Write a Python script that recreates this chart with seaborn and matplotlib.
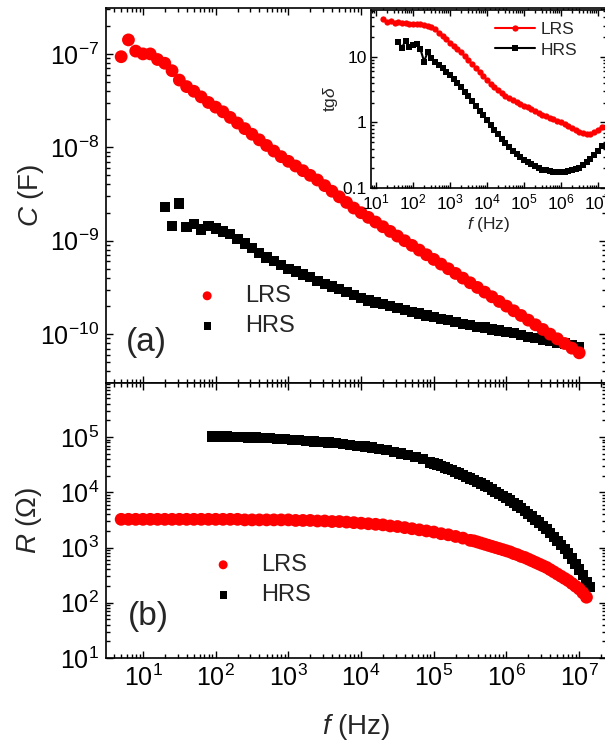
import numpy as np
import pandas as pd
import matplotlib
matplotlib.use("Agg")
import matplotlib.pyplot as plt
import seaborn as sns
from matplotlib.ticker import LogLocator, NullFormatter, FixedLocator, FixedFormatter, LogFormatterMathtext

sns.set_style("ticks")
plt.rcParams.update({
    "font.family": ["Liberation Sans", "DejaVu Sans"],
    "mathtext.fontset": "custom",
    "mathtext.rm": "Liberation Sans",
    "mathtext.it": "Liberation Sans:italic",
    "mathtext.bf": "Liberation Sans:bold",
    "axes.edgecolor": "black",
    "axes.linewidth": 1.2,
    "xtick.color": "black",
    "ytick.color": "black",
})

# ---------------- data (log10 values) ----------------
# (a) capacitance, log10 C [F]
c_lrs_logf = np.round(np.linspace(0.7, 7.0, 64), 2)
c_lrs_log = [-7.03, -6.85, -6.97, -7.00, -7.00, -7.06, -7.10, -7.18, -7.28, -7.35,
             -7.40, -7.46, -7.52, -7.57, -7.62, -7.68, -7.74, -7.80, -7.86, -7.92,
             -7.98, -8.04, -8.10, -8.15, -8.20, -8.25, -8.30, -8.35, -8.41, -8.47,
             -8.53, -8.59, -8.65, -8.70, -8.75, -8.80, -8.85, -8.90, -8.95, -9.00,
             -9.05, -9.10, -9.15, -9.20, -9.25, -9.30, -9.35, -9.40, -9.45, -9.50,
             -9.55, -9.60, -9.65, -9.70, -9.75, -9.80, -9.85, -9.90, -9.95, -10.00,
             -10.05, -10.10, -10.15, -10.20]
c_hrs_logf = np.round(np.linspace(1.3, 7.0, 58), 2)
c_hrs_log = [-8.64, -8.84, -8.60, -8.85, -8.82, -8.88, -8.84, -8.87, -8.90, -8.93,
             -8.98, -9.03, -9.08, -9.13, -9.18, -9.22, -9.26, -9.30, -9.33, -9.36,
             -9.39, -9.43, -9.46, -9.49, -9.52, -9.55, -9.58, -9.61, -9.64, -9.66,
             -9.68, -9.70, -9.72, -9.74, -9.76, -9.78, -9.80, -9.82, -9.84, -9.85,
             -9.87, -9.89, -9.90, -9.92, -9.93, -9.95, -9.96, -9.98, -9.99, -10.01,
             -10.03, -10.04, -10.06, -10.07, -10.09, -10.10, -10.12, -10.14]

# (b) resistance, log10 R [Ohm]
r_lrs_logf = np.r_[np.round(np.linspace(0.7, 5.4, 48), 2), np.round(np.linspace(5.5, 7.1, 33), 2)]
r_lrs_log = [3.51, 3.51, 3.51, 3.51, 3.51, 3.51, 3.51, 3.51, 3.51, 3.51,
             3.51, 3.51, 3.51, 3.51, 3.51, 3.51, 3.51, 3.50, 3.50, 3.50,
             3.50, 3.50, 3.50, 3.50, 3.49, 3.49, 3.49, 3.48, 3.48, 3.47,
             3.47, 3.46, 3.45, 3.44, 3.43, 3.42, 3.41, 3.39, 3.38, 3.36,
             3.34, 3.32, 3.30, 3.28, 3.25, 3.23, 3.20, 3.17,
             3.13, 3.12, 3.10, 3.08, 3.06, 3.04, 3.02, 3.00, 2.98, 2.96,
             2.94, 2.92, 2.89, 2.87, 2.84, 2.82, 2.79, 2.76, 2.73, 2.70,
             2.67, 2.64, 2.60, 2.56, 2.52, 2.48, 2.44, 2.40, 2.35, 2.30,
             2.25, 2.18, 2.10]
r_hrs_logf = np.r_[np.round(np.linspace(1.95, 4.95, 31), 2), np.round(np.linspace(5.0, 7.15, 44), 2)]
r_hrs_log = [5.01, 5.01, 5.01, 5.00, 5.00, 4.99, 4.99, 4.98, 4.98, 4.97,
             4.96, 4.95, 4.94, 4.93, 4.92, 4.91, 4.90, 4.89, 4.87, 4.86,
             4.84, 4.83, 4.81, 4.78, 4.76, 4.73, 4.70, 4.67, 4.64, 4.60,
             4.54,
             4.52, 4.50, 4.47, 4.45, 4.42, 4.40, 4.37, 4.34, 4.31, 4.28,
             4.25, 4.22, 4.19, 4.16, 4.12, 4.09, 4.05, 4.01, 3.97, 3.93,
             3.89, 3.85, 3.80, 3.76, 3.71, 3.66, 3.61, 3.56, 3.50, 3.45,
             3.39, 3.33, 3.26, 3.19, 3.12, 3.05, 2.97, 2.89, 2.80, 2.70,
             2.60, 2.50, 2.38, 2.28]

# inset, log10 tg(delta)
t_lrs_logf = np.round(np.linspace(1.2, 7.1, 60), 2)
t_lrs_log = [1.58, 1.53, 1.55, 1.52, 1.53, 1.52, 1.52, 1.51, 1.51, 1.51,
             1.50, 1.49, 1.47, 1.45, 1.42, 1.37, 1.32, 1.27, 1.22, 1.17,
             1.12, 1.07, 1.01, 0.95, 0.89, 0.83, 0.77, 0.71, 0.65, 0.59,
             0.54, 0.49, 0.45, 0.41, 0.37, 0.34, 0.31, 0.28, 0.25, 0.23,
             0.20, 0.18, 0.15, 0.12, 0.10, 0.07, 0.05, 0.02, 0.00, -0.03,
             -0.06, -0.09, -0.12, -0.14, -0.16, -0.17, -0.17, -0.15, -0.12, -0.07]
t_hrs_logf = np.round(np.linspace(1.6, 7.1, 56), 2)
t_hrs_log = [1.23, 1.14, 1.25, 1.15, 1.18, 1.20, 1.12, 0.93, 1.08, 0.98,
             0.92, 0.88, 0.83, 0.77, 0.72, 0.66, 0.60, 0.54, 0.47, 0.40,
             0.33, 0.25, 0.18, 0.11, 0.03, -0.04, -0.11, -0.18, -0.25, -0.31,
             -0.37, -0.43, -0.48, -0.53, -0.57, -0.60, -0.64, -0.67, -0.70, -0.72,
             -0.73, -0.74, -0.75, -0.75, -0.75, -0.75, -0.74, -0.73, -0.71, -0.69,
             -0.65, -0.61, -0.56, -0.50, -0.43, -0.36]

labels = ["LRS", "HRS"]
RED = "#ff0000"
BLACK = "#000000"


def frame(logf, logv):
    return pd.DataFrame({"f": 10.0 ** np.asarray(logf), "v": 10.0 ** np.asarray(logv)})


# ---------------- figure ----------------
W, H = 605, 743
fig = plt.figure(figsize=(W / 100, H / 100), dpi=100)


def rect(x0, y0, x1, y1):
    return [x0 / W, 1 - y1 / H, (x1 - x0) / W, (y1 - y0) / H]


ax1 = fig.add_axes(rect(106, 8, 605.5, 383))
ax2 = fig.add_axes(rect(106, 383, 605.5, 658))
axi = fig.add_axes(rect(371, 10, 606, 188))

TICK = 18


def style_log(ax, fs, major_len=5, minor_len=3):
    ax.set_xscale("log")
    ax.set_yscale("log")
    ax.tick_params(which="both", direction="in", top=True, right=True, width=1.0)
    ax.tick_params(which="major", length=major_len, labelsize=fs, pad=5)
    ax.tick_params(which="minor", length=minor_len)
    ax.xaxis.set_minor_locator(LogLocator(base=10, subs=np.arange(2, 10), numticks=20))
    ax.yaxis.set_minor_locator(LogLocator(base=10, subs=np.arange(2, 10), numticks=20))
    ax.xaxis.set_minor_formatter(NullFormatter())
    ax.yaxis.set_minor_formatter(NullFormatter())
    for s in ax.spines.values():
        s.set_linewidth(1.2)
        s.set_visible(True)


# ---- panel (a)
d = frame(c_lrs_logf, c_lrs_log)
sns.scatterplot(data=d, x="f", y="v", ax=ax1, marker="o", s=85, color=RED,
                edgecolor="none", linewidth=0, label=labels[0], zorder=3)
d = frame(c_hrs_logf, c_hrs_log)
sns.scatterplot(data=d, x="f", y="v", ax=ax1, marker="s", s=55, color=BLACK,
                edgecolor="none", linewidth=0, label=labels[1], zorder=2)
style_log(ax1, TICK)
ax1.set_xlim(3.1, 2.3e7)
ax1.set_ylim(3.0e-11, 3.1e-7)
ax1.xaxis.set_major_locator(LogLocator(base=10, numticks=20))
ax1.yaxis.set_major_locator(FixedLocator([1e-10, 1e-9, 1e-8, 1e-7]))
ax1.yaxis.set_major_formatter(LogFormatterMathtext())
ax1.tick_params(axis="x", labelbottom=False)
ax1.set_xlabel("")
ax1.set_ylabel(r"$\it{C}$ (F)", fontsize=20)
ax1.yaxis.set_label_coords(-0.12, 0.5)
ax1.text((146 - 106) / 499.5, (383 - 342) / 375, "(a)", transform=ax1.transAxes,
         fontsize=24, ha="center", va="center")
ax1.legend(loc="upper left", bbox_to_anchor=((193 - 106) / 499.5, (383 - 285) / 375),
           frameon=False, fontsize=17, markerscale=0.7, handletextpad=1.0,
           labelspacing=0.35, handlelength=1.2, borderaxespad=0, borderpad=0)

# ---- panel (b)
d = frame(r_lrs_logf, r_lrs_log)
sns.scatterplot(data=d, x="f", y="v", ax=ax2, marker="o", s=85, color=RED,
                edgecolor="none", linewidth=0, label=labels[0], zorder=3)
d = frame(r_hrs_logf, r_hrs_log)
sns.scatterplot(data=d, x="f", y="v", ax=ax2, marker="s", s=55, color=BLACK,
                edgecolor="none", linewidth=0, label=labels[1], zorder=2)
style_log(ax2, TICK)
ax2.set_xlim(3.1, 2.3e7)
ax2.set_ylim(10, 9.5e5)
ax2.xaxis.set_major_locator(FixedLocator([1e1, 1e2, 1e3, 1e4, 1e5, 1e6, 1e7]))
ax2.xaxis.set_major_formatter(LogFormatterMathtext())
ax2.yaxis.set_major_locator(FixedLocator([1e1, 1e2, 1e3, 1e4, 1e5]))
ax2.yaxis.set_major_formatter(LogFormatterMathtext())
ax2.set_xlabel(r"$\it{f}$ (Hz)", fontsize=20, labelpad=15)
ax2.set_ylabel(r"$\it{R}$ ($\Omega$)", fontsize=20)
ax2.yaxis.set_label_coords(-0.125, 0.5)
ax2.text((148 - 106) / 499.5, (658 - 616) / 275, "(b)", transform=ax2.transAxes,
         fontsize=24, ha="center", va="center")
ax2.legend(loc="upper left", bbox_to_anchor=((209 - 106) / 499.5, (658 - 554) / 275),
           frameon=False, fontsize=17, markerscale=0.7, handletextpad=1.0,
           labelspacing=0.35, handlelength=1.2, borderaxespad=0, borderpad=0)

# ---- inset
axi.set_facecolor("white")
d = frame(t_lrs_logf, t_lrs_log)
sns.lineplot(data=d, x="f", y="v", ax=axi, color=RED, marker="o", markersize=4.5,
             markeredgewidth=0, linewidth=1.5, label=labels[0], sort=False)
d = frame(t_hrs_logf, t_hrs_log)
sns.lineplot(data=d, x="f", y="v", ax=axi, color=BLACK, marker="s", markersize=4.2,
             markeredgewidth=0, linewidth=1.5, label=labels[1], sort=False)
style_log(axi, 12.5, major_len=4, minor_len=2)
axi.tick_params(which="major", pad=3)
axi.set_xlim(10 ** 0.864, 10 ** 7.22)
axi.set_ylim(0.1, 52)
axi.xaxis.set_major_locator(FixedLocator([1e1, 1e2, 1e3, 1e4, 1e5, 1e6, 1e7]))
axi.xaxis.set_major_formatter(LogFormatterMathtext())
axi.yaxis.set_major_locator(FixedLocator([0.1, 1, 10]))
axi.yaxis.set_major_formatter(FixedFormatter(["0.1", "1", "10"]))
axi.set_xlabel(r"$\it{f}$ (Hz)", fontsize=12.5, labelpad=2)
axi.set_ylabel(r"tg$\it{\delta}$", fontsize=12.5, labelpad=2)
axi.legend(loc="upper left", bbox_to_anchor=((495 - 371) / 235, (188 - 22) / 178),
           frameon=False, fontsize=12.5, handlelength=2.3, handletextpad=0.3,
           labelspacing=0.3, borderaxespad=0, borderpad=0)

fig.savefig("out.png", dpi=100)
